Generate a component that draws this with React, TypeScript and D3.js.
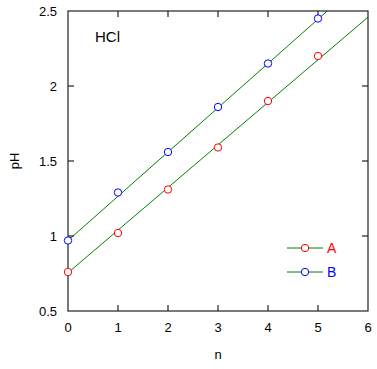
import React, { useEffect, useRef } from 'react';
import * as d3 from 'd3';

const nValues = [0, 1, 2, 3, 4, 5];
const phA = [0.76, 1.02, 1.31, 1.59, 1.9, 2.2];
const phB = [0.97, 1.29, 1.56, 1.86, 2.15, 2.45];
// fitted straight lines: [intercept, slope]
const fitA = [0.755, 0.284];
const fitB = [0.97, 0.295];
const xTicks = [0, 1, 2, 3, 4, 5, 6];
const yTicks = [0.5, 1, 1.5, 2, 2.5];

const App: React.FC = () => {
  const ref = useRef<SVGSVGElement>(null);

  useEffect(() => {
    if (!ref.current) return;
    const svg = d3.select(ref.current).attr('width', 377).attr('height', 369);
    svg.selectAll('*').remove();

    const x = d3.scaleLinear().domain([0, 6]).range([68, 368]);
    const y = d3.scaleLinear().domain([0.5, 2.5]).range([311, 11]);
    const font = 'Arial, "Liberation Sans", sans-serif';
    const tick = 6;

    svg.append('defs').append('clipPath').attr('id', 'plot')
      .append('rect')
      .attr('x', x(0)).attr('y', y(2.5))
      .attr('width', x(6) - x(0)).attr('height', y(0.5) - y(2.5));

    // fit lines
    const line = d3.line<[number, number]>().x(d => x(d[0])).y(d => y(d[1]));
    [fitA, fitB].forEach(f => {
      svg.append('path')
        .attr('d', line([[0, f[0]], [6, f[0] + 6 * f[1]]]))
        .attr('fill', 'none')
        .attr('stroke', '#008000')
        .attr('stroke-width', 1)
        .attr('clip-path', 'url(#plot)');
    });

    // frame + inward ticks on all four sides
    const g = svg.append('g').attr('stroke', '#222').attr('stroke-width', 1.2);
    g.append('rect')
      .attr('x', x(0)).attr('y', y(2.5))
      .attr('width', x(6) - x(0)).attr('height', y(0.5) - y(2.5))
      .attr('fill', 'none');
    xTicks.slice(1, -1).forEach(t => {
      g.append('line').attr('x1', x(t)).attr('x2', x(t)).attr('y1', y(0.5)).attr('y2', y(0.5) - tick);
      g.append('line').attr('x1', x(t)).attr('x2', x(t)).attr('y1', y(2.5)).attr('y2', y(2.5) + tick);
    });
    yTicks.slice(1, -1).forEach(t => {
      g.append('line').attr('x1', x(0)).attr('x2', x(0) + tick).attr('y1', y(t)).attr('y2', y(t));
      g.append('line').attr('x1', x(6)).attr('x2', x(6) - tick).attr('y1', y(t)).attr('y2', y(t));
    });

    svg.append('g').selectAll('text').data(xTicks).enter().append('text')
      .attr('x', d => x(d)).attr('y', 332)
      .attr('text-anchor', 'middle')
      .attr('font-family', font).attr('font-size', 13)
      .text(d => String(d));
    svg.append('g').selectAll('text').data(yTicks).enter().append('text')
      .attr('x', 57).attr('y', d => y(d))
      .attr('dy', '0.35em')
      .attr('text-anchor', 'end')
      .attr('font-family', font).attr('font-size', 13)
      .text(d => String(d));

    svg.append('text').attr('x', 218).attr('y', 359)
      .attr('text-anchor', 'middle').attr('font-family', font).attr('font-size', 13).text('n');
    svg.append('text')
      .attr('transform', `translate(19,${(y(0.5) + y(2.5)) / 2}) rotate(-90)`)
      .attr('text-anchor', 'middle').attr('font-family', font).attr('font-size', 13).text('pH');

    svg.append('text').attr('x', 95).attr('y', 42)
      .attr('font-family', font).attr('font-size', 15).text('HCl');

    // points
    const series = [
      { data: phA, color: '#ff0000' },
      { data: phB, color: '#0000ff' },
    ];
    series.forEach(s => {
      svg.append('g').selectAll('circle').data(nValues).enter().append('circle')
        .attr('cx', d => x(d)).attr('cy', (d, i) => y(s.data[i]))
        .attr('r', 3.7)
        .attr('fill', 'white')
        .attr('stroke', s.color)
        .attr('stroke-width', 1);
    });

    // legend
    const legend = [
      { label: 'A', color: '#ff0000', ly: 248 },
      { label: 'B', color: '#0000ff', ly: 272 },
    ];
    legend.forEach(l => {
      svg.append('line').attr('x1', 287).attr('x2', 323).attr('y1', l.ly).attr('y2', l.ly)
        .attr('stroke', '#008000').attr('stroke-width', 1);
      svg.append('circle').attr('cx', 305).attr('cy', l.ly).attr('r', 3.7)
        .attr('fill', 'white').attr('stroke', l.color).attr('stroke-width', 1);
      svg.append('text').attr('x', 327).attr('y', l.ly).attr('dy', '0.35em')
        .attr('font-family', font).attr('font-size', 14).attr('fill', l.color).text(l.label);
    });
  }, []);

  return <svg ref={ref} style={{ position: 'absolute', left: 0, top: 0, background: 'white' }}></svg>;
};

export default App;
